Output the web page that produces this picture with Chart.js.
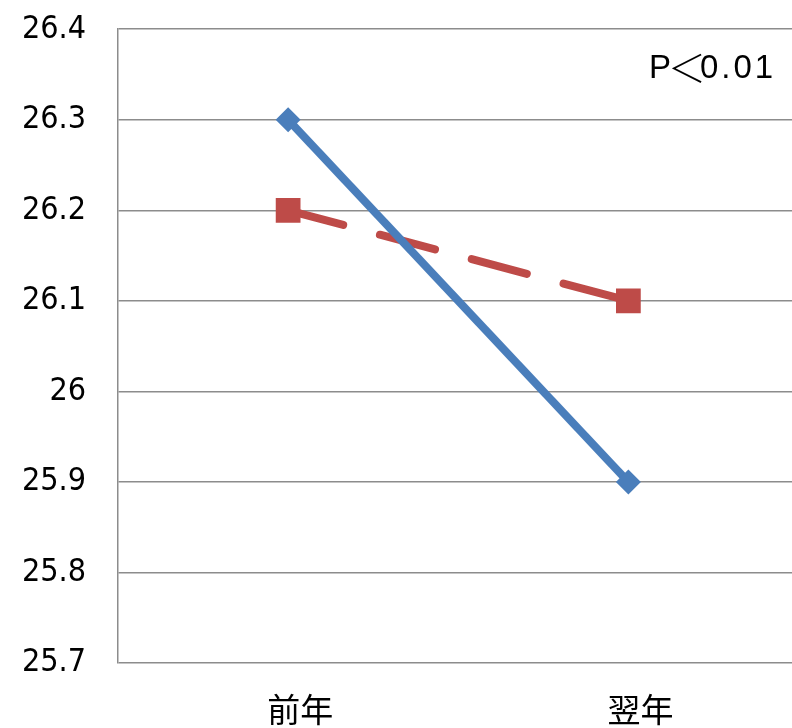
<!DOCTYPE html>
<html>
<head>
<meta charset="utf-8">
<script src="https://cdn.jsdelivr.net/npm/chart.js@4/dist/chart.umd.min.js"></script>
<style>
  html, body { margin: 0; padding: 0; background: #fff; overflow: hidden; }
  #wrap { width: 816px; height: 750px; margin-top: -22px; }
</style>
</head>
<body>
<div id="wrap"><canvas id="chart"></canvas></div>
<script>
const categories = ['前年', '翌年'];
const seriesA = [26.3, 25.9];   // blue, solid, diamonds
const seriesB = [26.2, 26.1];   // red, dashed, squares
const yMin = 25.7;
const yMax = 26.4;
const yStep = 0.1;
const notePieces = ['P', '＜', '0.01'];

// annotation in the top right corner (the wide ＜ needs a CJK font)
const notePlugin = {
    id: 'note',
    afterDraw(chart) {
        const ctx = chart.ctx;
        const shift = 22; // canvas is moved up 22px by css
        ctx.save();
        ctx.fillStyle = '#000';
        ctx.textAlign = 'left';
        ctx.textBaseline = 'alphabetic';
        ctx.font = '33px "Liberation Sans", Arial, sans-serif';
        ctx.fillText(notePieces[0], 649, 78 + shift);
        ctx.font = '300 38px "Noto Sans CJK JP", sans-serif';
        ctx.textBaseline = 'middle';
        ctx.fillText(notePieces[1], 668, 68 + shift);
        ctx.textBaseline = 'alphabetic';
        ctx.font = '33px "Liberation Sans", Arial, sans-serif';
        ctx.letterSpacing = '3px';
        ctx.fillText(notePieces[2], 700, 78 + shift);
        ctx.restore();
    }
};

const ctx = document.getElementById('chart').getContext('2d');
new Chart(ctx, {
    type: 'line',
    data: {
        labels: categories,
        datasets: [
            {
                data: seriesA,
                borderColor: '#4A7EBB',
                backgroundColor: '#4A7EBB',
                borderWidth: 8,
                pointStyle: 'rectRot',
                pointRadius: 12.5,
                pointHoverRadius: 12.5,
                pointBorderWidth: 0,
                tension: 0
            },
            {
                data: seriesB,
                borderColor: '#BE4B48',
                backgroundColor: '#BE4B48',
                borderWidth: 8,
                borderDash: [57, 38],
                borderCapStyle: 'round',
                pointStyle: 'rect',
                pointRadius: 17.5,
                pointHoverRadius: 17.5,
                pointBorderWidth: 0,
                tension: 0
            }
        ]
    },
    options: {
        responsive: true,
        maintainAspectRatio: false,
        animation: false,
        layout: { padding: { top: 28, right: 0, left: 0, bottom: 0 } },
        plugins: {
            legend: { display: false },
            tooltip: { enabled: false }
        },
        scales: {
            x: {
                offset: true,
                grid: { display: false, drawTicks: false },
                border: { display: false },
                ticks: {
                    color: '#000',
                    font: { family: '"Noto Sans CJK JP", sans-serif', size: 33 },
                    padding: 27,
                    labelOffset: 12
                },
                afterFit: (scale) => { scale.height = 65; }
            },
            y: {
                min: yMin,
                max: yMax,
                grid: { color: '#8c8c8c', lineWidth: 1.5, drawTicks: false },
                border: { display: true, color: '#8c8c8c', width: 1.5 },
                ticks: {
                    stepSize: yStep,
                    color: '#000',
                    padding: 32,
                    font: { family: '"DejaVu Sans Condensed", "DejaVu Sans", sans-serif', size: 32 },
                    callback: (v) => +v.toFixed(1)
                },
                afterFit: (scale) => { scale.width = 118; }
            }
        }
    },
    plugins: [notePlugin]
});
</script>
</body>
</html>
